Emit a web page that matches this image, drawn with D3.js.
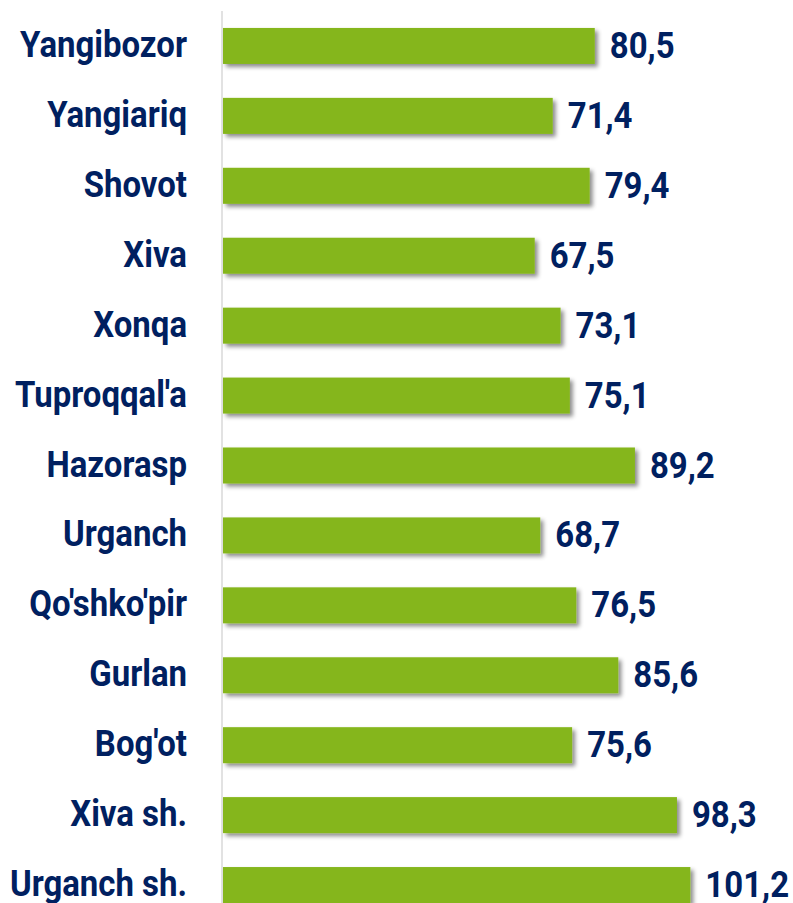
<!DOCTYPE html>
<html>
<head>
<meta charset="utf-8">
<script src="https://cdn.jsdelivr.net/npm/d3@7"></script>
<style>
  body { margin: 0; background: #fff; }
  svg text { font-family: Roboto, "Liberation Sans", sans-serif; font-weight: 700; fill: #002060; }
</style>
</head>
<body>
<svg id="chart"></svg>
<script>
let districts = ["Yangibozor", "Yangiariq", "Shovot", "Xiva", "Xonqa", "Tuproqqal'a", "Hazorasp",
  "Urganch", "Qo'shko'pir", "Gurlan", "Bog'ot", "Xiva sh.", "Urganch sh."];
let values = [80.5, 71.4, 79.4, 67.5, 73.1, 75.1, 89.2, 68.7, 76.5, 85.6, 75.6, 98.3, 101.2];

let w = 793;
let h = 903;
let left = 223;
let svg = d3.select('#chart').attr('width', w).attr('height', h);

let x = d3.scaleLinear().domain([0, 110]).range([left, left + 508]);
let y = d3.scaleBand().domain(districts).range([11, 920]).paddingInner(0.485).paddingOuter(0.2425);

let fmt = v => d3.format('.1f')(v).replace('.', ',');
let sx = 0.89; // narrow the font a bit, the original is a condensed face

let defs = svg.append('defs');
let f = defs.append('filter').attr('id', 'shadow')
  .attr('x', '-5%').attr('y', '-30%').attr('width', '115%').attr('height', '180%');
f.append('feDropShadow').attr('dx', 3).attr('dy', 3).attr('stdDeviation', 2.2)
  .attr('flood-color', '#000').attr('flood-opacity', 0.45);

// axis line
svg.append('line')
  .attr('x1', left - 1).attr('x2', left - 1)
  .attr('y1', y.range()[0]).attr('y2', y.range()[1])
  .attr('stroke', '#d9d9d9').attr('stroke-width', 1.5);

svg.selectAll('rect.bar')
  .data(values)
  .enter()
  .append('rect')
  .attr('class', 'bar')
  .attr('x', x(0))
  .attr('y', (d, i) => y(districts[i]))
  .attr('width', d => x(d) - x(0))
  .attr('height', y.bandwidth())
  .attr('fill', '#85b61b')
  .attr('filter', 'url(#shadow)');

// category labels
svg.selectAll('text.cat')
  .data(districts)
  .enter()
  .append('text')
  .attr('class', 'cat')
  .attr('text-anchor', 'end')
  .attr('font-size', 37)
  .attr('transform', d => 'translate(187,' + (y(d) + y.bandwidth() / 2 + 11) + ') scale(' + sx + ',1)')
  .text(d => d);

// value labels
svg.selectAll('text.val')
  .data(values)
  .enter()
  .append('text')
  .attr('class', 'val')
  .attr('font-size', 37)
  .attr('transform', (d, i) => 'translate(' + (x(d) + 15) + ',' + (y(districts[i]) + y.bandwidth() / 2 + 12) + ') scale(' + sx + ',1)')
  .text(d => fmt(d));
</script>
</body>
</html>
